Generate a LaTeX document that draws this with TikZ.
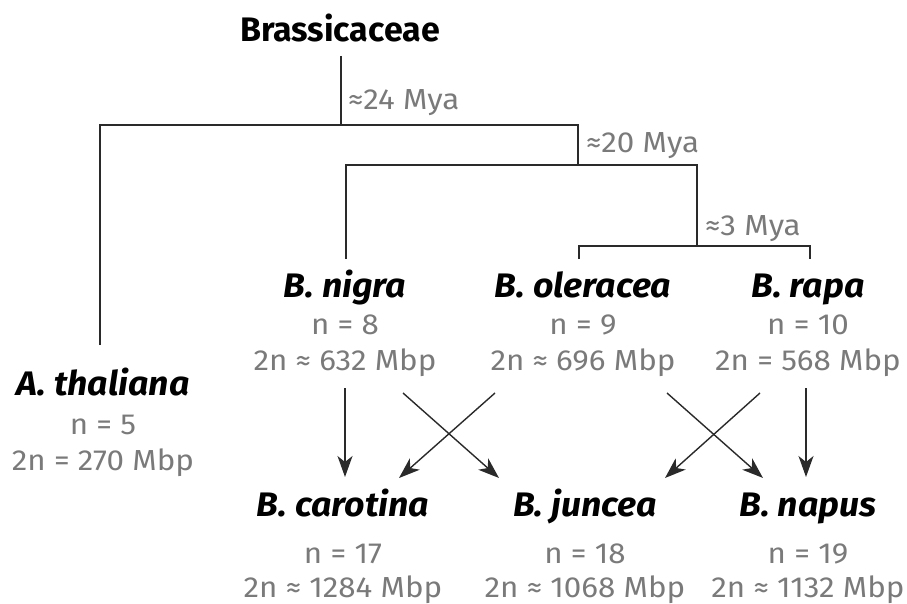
\documentclass[tikz,border=0pt]{standalone}
\usepackage{fontspec}
\setmainfont{Fira Sans}
\newfontfamily\infofont[FakeStretch=1.08]{Fira Sans}
\newfontfamily\spfont[FakeStretch=1.05]{Fira Sans}
\usetikzlibrary{arrows.meta}
\definecolor{txtgray}{HTML}{7A7A7A}
\definecolor{linec}{HTML}{2A2A2A}
\tikzset{
  sp/.style={anchor=base, inner sep=0pt, font=\spfont\fontsize{34}{38}\selectfont\bfseries\itshape, text=black},
  fam/.style={anchor=base, inner sep=0pt, font=\fontsize{34}{38}\selectfont\bfseries, text=black},
  info/.style={anchor=base, inner sep=0pt, font=\infofont\fontsize{29}{32}\selectfont, text=txtgray},
  age/.style={anchor=base west, inner sep=0pt, font=\infofont\fontsize{29}{32}\selectfont, text=txtgray},
  tree/.style={draw=linec, line width=1.4pt},
  arr/.style={draw=linec, line width=1.4pt, -{Stealth[length=21pt, width=15pt, inset=6pt]}}
}
\begin{document}
\begin{tikzpicture}[x=1pt, y=-1pt]
\useasboundingbox (0,0) rectangle (907,604);
% title
\node[fam] (brass) at (340,42) {Brassicaceae};
% ages
\node[age] (a24) at (348,110) {≈24 Mya};
\node[age] (a20) at (586,153) {≈20 Mya};
\node[age] (a3) at (705,235) {≈3 Mya};
% species top row
\node[sp] (thal) at (103,395) {A. thaliana};
\node[info] (thaln) at (103,434) {n = 5};
\node[info] (thal2n) at (103,470) {2n = 270 Mbp};
\node[sp] (nigra) at (345,297) {B. nigra};
\node[info] (nigran) at (345,334) {n = 8};
\node[info] (nigra2n) at (345,370) {2n ≈ 632 Mbp};
\node[sp] (oler) at (583,297) {B. oleracea};
\node[info] (olern) at (583,334) {n = 9};
\node[info] (oler2n) at (583,370) {2n ≈ 696 Mbp};
\node[sp] (rapa) at (808,297) {B. rapa};
\node[info] (rapan) at (808,334) {n = 10};
\node[info] (rapa2n) at (808,370) {2n = 568 Mbp};
% species bottom row
\node[sp] (caro) at (343,516) {B. carotina};
\node[info] (caron) at (343,563) {n = 17};
\node[info] (caro2n) at (343,597) {2n ≈ 1284 Mbp};
\node[sp] (junc) at (585,516) {B. juncea};
\node[info] (juncn) at (585,563) {n = 18};
\node[info] (junc2n) at (585,597) {2n ≈ 1068 Mbp};
\node[sp] (napus) at (808,516) {B. napus};
\node[info] (napusn) at (808,563) {n = 19};
\node[info] (napus2n) at (808,597) {2n ≈ 1132 Mbp};
% tree coordinates
\coordinate (rtop) at (341,56);
\coordinate (r) at (341,125);
\coordinate (thalc) at (100,125);
\coordinate (thalt) at (100,345);
\coordinate (b1) at (578,125);
\coordinate (b1d) at (578,165);
\coordinate (nigc) at (346,165);
\coordinate (nigt) at (346,259);
\coordinate (b2) at (697,165);
\coordinate (b2d) at (697,246);
\coordinate (olc) at (579,246);
\coordinate (olt) at (579,259);
\coordinate (rac) at (810,246);
\coordinate (rat) at (810,259);
\draw[tree] (rtop) -- (r);
\draw[tree] (thalt) -- (thalc) -- (b1) -- (b1d);
\draw[tree] (nigt) -- (nigc) -- (b2) -- (b2d);
\draw[tree] (olt) -- (olc) -- (rac) -- (rat);
% arrows
\coordinate (s1) at (345,388); \coordinate (e1) at (345,477);
\coordinate (s2) at (403,393); \coordinate (e2) at (499,478);
\coordinate (s3) at (495,393); \coordinate (e3) at (399,478);
\coordinate (s4) at (667,393); \coordinate (e4) at (763,478);
\coordinate (s5) at (760,393); \coordinate (e5) at (665,478);
\coordinate (s6) at (806,388); \coordinate (e6) at (806,477);
\draw[arr] (s1) -- (e1);
\draw[arr] (s2) -- (e2);
\draw[arr] (s3) -- (e3);
\draw[arr] (s4) -- (e4);
\draw[arr] (s5) -- (e5);
\draw[arr] (s6) -- (e6);
\end{tikzpicture}
\end{document}
